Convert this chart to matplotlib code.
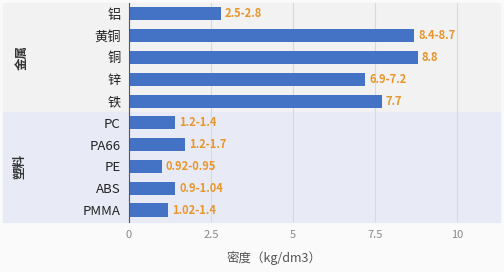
import matplotlib
matplotlib.use("Agg")
import matplotlib.pyplot as plt
from matplotlib.patches import Rectangle
from matplotlib.transforms import blended_transform_factory

plt.rcParams['font.family'] = ['Noto Sans CJK SC', 'DejaVu Sans']

# data
materials = ['铝', '黄铜', '铜', '锌', '铁', 'PC', 'PA66', 'PE', 'ABS', 'PMMA']
density = [2.8, 8.7, 8.8, 7.2, 7.7, 1.4, 1.7, 1.0, 1.4, 1.2]
value_labels = ['2.5-2.8', '8.4-8.7', '8.8', '6.9-7.2', '7.7',
                '1.2-1.4', '1.2-1.7', '0.92-0.95', '0.9-1.04', '1.02-1.4']
groups = ['金属', '塑料']
group_sizes = [5, 5]
xticks = [0, 2.5, 5, 7.5, 10]
xtick_labels = ['0', '2.5', '5', '7.5', '10']

W, H = 504, 272
fig = plt.figure(figsize=(W / 100, H / 100), dpi=100)
fig.patch.set_facecolor('#fafafa')

# group bands (figure pixel coords)
fig.add_artist(Rectangle((3 / W, 1 - 112 / H), 497 / W, 109 / H,
                         transform=fig.transFigure, color='#f2f2f2', zorder=0))
fig.add_artist(Rectangle((3 / W, 1 - 222 / H), 497 / W, 110 / H,
                         transform=fig.transFigure, color='#e8ebf6', zorder=0))

ax = fig.add_axes([129 / W, 1 - 222 / H, 369 / W, 219 / H])
ax.set_facecolor('none')

y = list(range(len(materials)))
ax.barh(y, density, height=0.6, color='#4472c4', zorder=3)
for yi, v, lab in zip(y, density, value_labels):
    ax.annotate(lab, (v, yi), xytext=(3, 0), textcoords='offset points',
                va='center', ha='left', fontsize=8, fontweight='bold',
                color='#e8952a', zorder=4)

ax.set_ylim(9.55, -0.5)
ax.set_xlim(0, 11.25)
ax.set_yticks(y)
ax.set_yticklabels(materials, fontsize=9.5, color='#222222')
ax.set_xticks(xticks)
ax.set_xticklabels(xtick_labels, fontsize=8, color='#888888')
ax.tick_params(axis='both', length=0, pad=6)
ax.grid(axis='x', color='#d9d9d9', lw=0.8, zorder=1)
for s in ['top', 'right', 'bottom']:
    ax.spines[s].set_visible(False)
ax.spines['left'].set_color('#555555')
ax.spines['left'].set_zorder(5)

# group names, rotated, placed in figure x / data y
trans = blended_transform_factory(fig.transFigure, ax.transData)
start = 0
gx = [22, 20]
for g, n, px in zip(groups, group_sizes, gx):
    mid = start + (n - 1) / 2
    ax.text(px / W, mid, g, transform=trans, rotation=90, clip_on=False,
            ha='center', va='center', fontsize=9, fontweight='bold', color='#333333')
    start += n

fig.text(274 / W, 1 - 258 / H, '密度（kg/dm3）', ha='center', va='center',
         fontsize=9, color='#555555')

fig.savefig('out.png', dpi=100, facecolor=fig.get_facecolor())
